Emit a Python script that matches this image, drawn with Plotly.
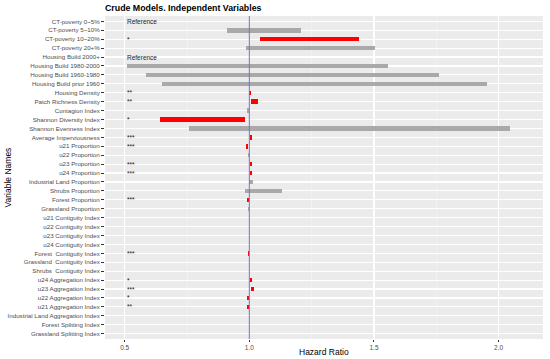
import plotly.graph_objects as go

categories = [
    "CT-poverty 0~5%", "CT-poverty 5~10%", "CT-poverty 10~20%", "CT-poverty 20+%",
    "Housing Build 2000+", "Housing Build 1980-2000", "Housing Build 1960-1980", "Housing Build prior 1960",
    "Housing Density", "Patch Richness Density", "Contagion Index", "Shannon Diversity Index",
    "Shannon Evenness Index", "Average Imperviousness", "u21 Proportion", "u22 Proportion",
    "u23 Proportion", "u24 Proportion", "Industrial Land Proportion", "Shrubs Proportion",
    "Forest Proportion", "Grassland Proportion", "u21 Contiguity Index", "u22 Contiguity Index",
    "u23 Contiguity Index", "u24 Contiguity Index", "Forest  Contiguity Index", "Grassland  Contiguity Index",
    "Shrubs  Contiguity Index", "u24 Aggregation Index", "u23 Aggregation Index", "u22 Aggregation Index",
    "u21 Aggregation Index", "Industrial Land Aggregation Index", "Forest Splitting Index", "Grassland Splitting Index",
]

lower = [None, 0.909, 1.043, 0.985, None, 0.510, 0.586, 0.650,
         1.000, 1.008, 0.989, 0.643, 0.757, 1.002, 0.986, 0.993,
         1.002, 1.001, 1.000, 0.982, 0.989, 0.993, 0.997, 0.997,
         0.997, 0.997, 0.994, 0.997, 0.997, 1.001, 1.006, 0.990,
         0.990, 0.997, 0.998, 0.998]
upper = [None, 1.209, 1.438, 1.505, None, 1.555, 1.759, 1.953,
         1.007, 1.035, 1.000, 0.982, 2.045, 1.009, 0.995, 0.999,
         1.010, 1.009, 1.013, 1.131, 0.998, 1.000, 1.000, 1.000,
         1.000, 1.000, 1.000, 1.000, 1.000, 1.010, 1.018, 0.999,
         0.998, 1.000, 1.000, 1.000]
significance = ["Reference", "", "*", "", "Reference", "", "", "",
                "**", "**", "", "*", "", "***", "***", "",
                "***", "***", "", "", "***", "", "", "",
                "", "", "***", "", "", "*", "***", "*",
                "**", "", "", ""]

xticks = [0.5, 1.0, 1.5, 2.0]
xticklabels = ["0.5", "1.0", "1.5", "2.0"]

widths = [None if lo is None else hi - lo for lo, hi in zip(lower, upper)]
colors = ["#FF0000" if s.startswith("*") else "#A9A9A9" for s in significance]

fig = go.Figure()
fig.add_trace(go.Bar(
    y=categories, x=widths, base=lower, orientation="h",
    marker=dict(color=colors, line=dict(width=0)),
    width=0.5, showlegend=False, hoverinfo="skip",
))

annotations = []
for cat, s in zip(categories, significance):
    if s:
        annotations.append(dict(
            x=0.5, y=cat, xref="x", yref="y", text=s, showarrow=False,
            xanchor="left", yanchor="middle",
            font=dict(family="Liberation Sans, Arial", size=6.5, color="#1a1a1a"),
        ))
annotations.append(dict(
    x=0.5, y=-0.04, xref="paper", yref="paper", text="Hazard Ratio", showarrow=False,
    xanchor="center", yanchor="middle",
    font=dict(family="Liberation Sans, Arial", size=8.5, color="#000000"),
))
annotations.append(dict(
    x=-0.2215, y=0.5, xref="paper", yref="paper", text="Variable Names", showarrow=False,
    xanchor="center", yanchor="middle", textangle=-90,
    font=dict(family="Liberation Sans, Arial", size=8.5, color="#000000"),
))

fig.update_layout(
    width=550, height=359,
    margin=dict(l=105, r=7, t=16, b=20),
    paper_bgcolor="white", plot_bgcolor="#EBEBEB",
    title=dict(text="<b>Crude Models. Independent Variables</b>",
               x=105 / 550, xanchor="left", y=1 - 8 / 359, yanchor="middle",
               font=dict(family="Liberation Sans, Arial", size=8.8, color="#000000")),
    annotations=annotations,
    shapes=[dict(type="line", x0=1.0, x1=1.0, y0=0, y1=1, xref="x", yref="paper",
                 line=dict(color="#6F6FE6", width=1), layer="above")],
    bargap=0,
)
fig.update_xaxes(
    range=[0.421, 2.178], tickvals=xticks, ticktext=xticklabels,
    showgrid=True, gridcolor="white", gridwidth=1.1, zeroline=False,
    ticks="outside", ticklen=2, tickcolor="#333333", tickwidth=1,
    tickfont=dict(family="Liberation Sans, Arial", size=6.5, color="#4D4D4D"),
    minor=dict(tickvals=[0.75, 1.25, 1.75], showgrid=True, gridcolor="#F5F5F5", gridwidth=0.6, ticks=""),
    showline=False, fixedrange=True,
)
fig.update_yaxes(
    categoryorder="array", categoryarray=categories,
    range=[35.6, -0.6],
    showgrid=True, gridcolor="white", gridwidth=1.1, zeroline=False,
    ticks="outside", ticklen=3, tickcolor="#333333", tickwidth=1,
    tickfont=dict(family="Liberation Sans, Arial", size=6.2, color="#4D4D4D"),
    showline=False, fixedrange=True,
)

fig.write_html("out.html",
               config={"displayModeBar": False, "staticPlot": True},
               post_script="document.body.style.margin='0';document.body.style.overflow='hidden';")
